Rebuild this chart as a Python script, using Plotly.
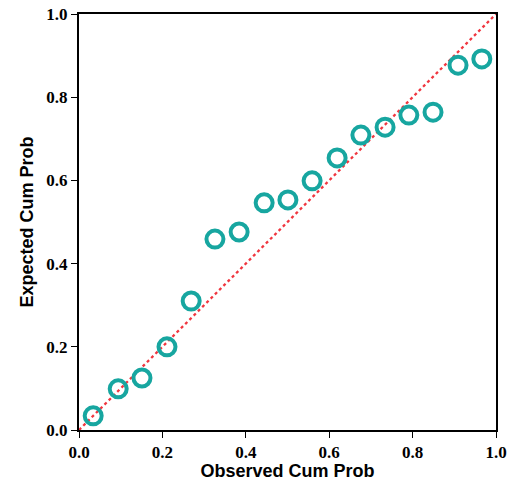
import plotly.graph_objects as go

observed = [0.034, 0.094, 0.151, 0.211, 0.269, 0.326, 0.384, 0.444, 0.501,
            0.559, 0.619, 0.676, 0.734, 0.791, 0.849, 0.909, 0.966]
expected = [0.034, 0.099, 0.125, 0.200, 0.310, 0.459, 0.476, 0.546, 0.553,
            0.599, 0.654, 0.709, 0.728, 0.757, 0.764, 0.877, 0.892]
ref_line = [0.0, 1.0]
tick_vals = [0.0, 0.2, 0.4, 0.6, 0.8, 1.0]
tick_text = ["0.0", "0.2", "0.4", "0.6", "0.8", "1.0"]

fig = go.Figure()
fig.add_trace(go.Scatter(x=ref_line, y=ref_line, mode="lines",
                         line=dict(color="#f0363f", width=2.3, dash="dot"),
                         hoverinfo="skip", showlegend=False))
fig.add_trace(go.Scatter(x=observed, y=expected, mode="markers",
                         marker=dict(symbol="circle-open", size=17,
                                     line=dict(color="#17a6a0", width=4),
                                     color="#17a6a0"),
                         showlegend=False))

tick_font = dict(family="Liberation Serif", size=17, color="black", weight="bold")
title_font = dict(family="Liberation Sans", size=18, color="black", weight="bold")

axis_common = dict(range=[0, 1], tickvals=tick_vals, ticktext=tick_text,
                   ticks="outside", ticklen=6, tickwidth=1, tickcolor="black",
                   showgrid=False, zeroline=False, showline=True,
                   linecolor="black", linewidth=2, mirror=True,
                   automargin=False, tickfont=tick_font)

fig.update_layout(
    width=510, height=481,
    margin=dict(l=79, r=14, t=14, b=51),
    plot_bgcolor="white", paper_bgcolor="white",
    font=dict(family="Liberation Serif"),
    xaxis=dict(**axis_common,
               title=dict(text="Observed Cum Prob", standoff=4, font=title_font)),
    yaxis=dict(**axis_common,
               title=dict(text="Expected Cum Prob", standoff=8, font=title_font)),
)

fig.write_html("out.html")
